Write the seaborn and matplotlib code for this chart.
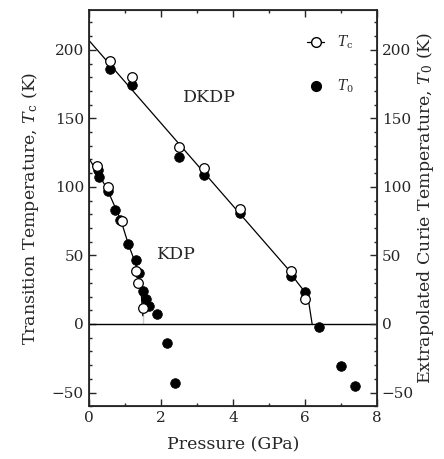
import numpy as np
import pandas as pd
import seaborn as sns
from matplotlib import pyplot as plt
from matplotlib.ticker import MultipleLocator
from matplotlib.lines import Line2D

# DKDP data
dkdp_p_tc = [0.6, 1.2, 2.5, 3.2, 4.2, 5.6, 6.0]
dkdp_tc = [192, 180, 129, 114, 84, 39, 18]
dkdp_p_t0 = [0.6, 1.2, 2.5, 3.2, 4.2, 5.6, 6.0, 6.4, 7.0, 7.4]
dkdp_t0 = [186, 174, 122, 109, 81, 35, 23, -2, -31, -45]

# KDP data
kdp_p_tc = [0.23, 0.52, 0.91, 1.30, 1.37, 1.50]
kdp_tc = [115, 100, 75, 39, 30, 12]
kdp_p_t0 = [0.25, 0.29, 0.52, 0.72, 0.88, 1.08, 1.30, 1.39, 1.50, 1.58, 1.67, 1.88, 2.18, 2.39]
kdp_t0 = [112, 107, 97, 83, 76, 58, 47, 37, 24, 18, 13, 7, -14, -43]

# guide lines
dkdp_line_p = [0.0, 5.6, 5.77, 5.95, 6.1, 6.2]
dkdp_line_t = [207, 38, 31, 25, 17, 0]
kdp_line_p = [0.0, 0.5, 0.9, 1.1, 1.3, 1.45, 1.5, 1.5]
kdp_line_t = [121, 99, 75, 58, 44, 24, 12, 0]

sns.set_style("ticks")
plt.rcParams['font.family'] = ['DejaVu Serif']
plt.rcParams['mathtext.fontset'] = 'dejavuserif'

fig = plt.figure(figsize=(4.44, 4.59), dpi=100)
ax = fig.add_axes([0.2, 0.115, 0.649, 0.863])

sns.lineplot(x=dkdp_line_p, y=dkdp_line_t, sort=False, color="black", lw=0.9, ax=ax)
sns.lineplot(x=kdp_line_p, y=kdp_line_t, sort=False, color="black", lw=0.9, ax=ax)
ax.axhline(0, color="black", lw=1.0)

sns.scatterplot(x=dkdp_p_t0 + kdp_p_t0, y=dkdp_t0 + kdp_t0, color="black",
                edgecolor="black", s=48, zorder=3, ax=ax)
sns.scatterplot(x=dkdp_p_tc + kdp_p_tc, y=dkdp_tc + kdp_tc, color="white",
                edgecolor="black", linewidth=0.9, s=48, zorder=4, ax=ax)

ax.set_xlim(0, 8)
ax.set_ylim(-60, 229)
ax.xaxis.set_major_locator(MultipleLocator(2))
ax.xaxis.set_minor_locator(MultipleLocator(1))
ax.yaxis.set_major_locator(MultipleLocator(50))
ax.yaxis.set_minor_locator(MultipleLocator(10))
ax.tick_params(which="both", direction="in", top=True, right=True, labelsize=11)
ax.tick_params(which="major", length=5, width=1)
ax.tick_params(which="minor", length=2.5, width=1)
for sp in ax.spines.values():
    sp.set_linewidth(1.3)

ax.set_xlabel("Pressure (GPa)", fontsize=12.5, labelpad=8)
ax.set_ylabel("Transition Temperature, $T_{\\rm c}$ (K)", fontsize=12.5, labelpad=8)

ax2 = ax.twinx()
ax2.set_ylim(ax.get_ylim())
ax2.yaxis.set_major_locator(MultipleLocator(50))
ax2.yaxis.set_minor_locator(MultipleLocator(10))
ax2.tick_params(which="both", direction="in", labelsize=11)
ax2.tick_params(which="major", length=5, width=1)
ax2.tick_params(which="minor", length=2.5, width=1)
ax2.set_ylabel("Extrapolated Curie Temperature, $T_0$ (K)", fontsize=12.5,
               rotation=90, labelpad=1)

ax.text(3.34, 165, "DKDP", fontsize=12.5, ha="center", va="center")
ax.text(2.42, 51, "KDP", fontsize=12.5, ha="center", va="center")

handles = [
    Line2D([], [], color="black", lw=0.9, marker="o", markerfacecolor="white",
           markeredgecolor="black", markersize=7),
    Line2D([], [], color="none", marker="o", markerfacecolor="black",
           markeredgecolor="black", markersize=7),
]
ax.legend(handles, ["$T_{\\rm c}$", "$T_0$"], loc="upper right", frameon=False,
          handlelength=1.2, handletextpad=0.9, labelspacing=1.9, fontsize=10,
          borderaxespad=1.3)

fig.savefig("out.png", dpi=100)
